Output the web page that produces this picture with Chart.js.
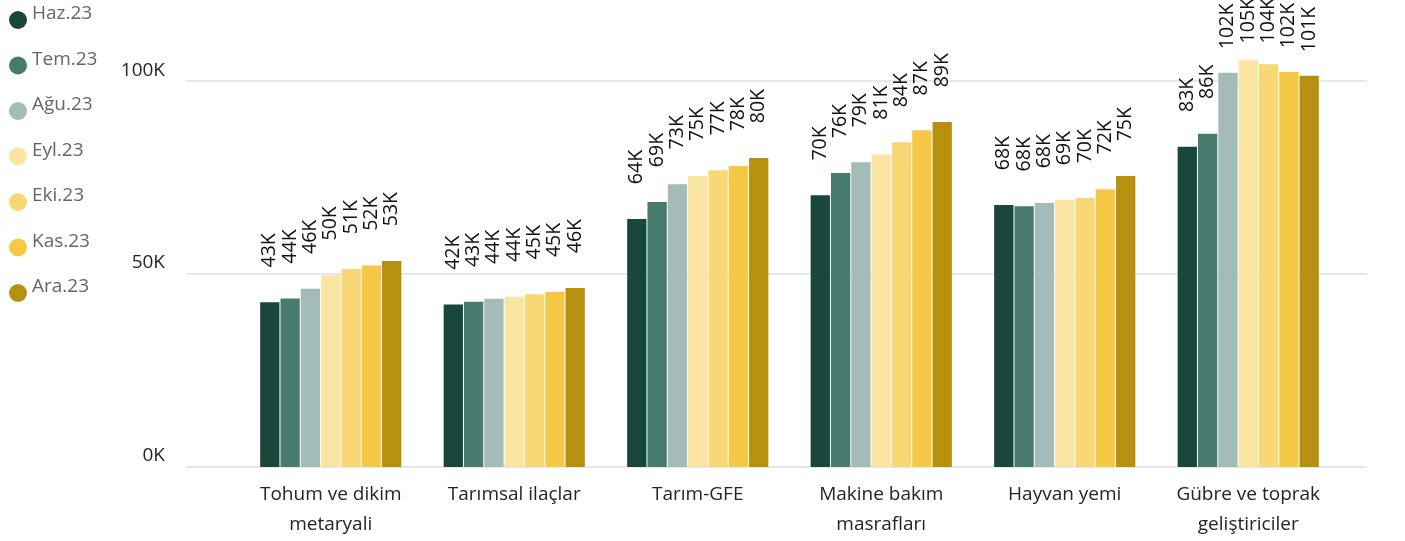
<!DOCTYPE html>
<html>
<head>
<meta charset="utf-8">
<script src="https://cdn.jsdelivr.net/npm/chart.js@4.4.1/dist/chart.umd.min.js"></script>
<style>
html,body{margin:0;padding:0;background:#fff;}
canvas{display:block;}
</style>
</head>
<body>
<canvas id="c" width="1405" height="541"></canvas>
<script>
// Categories (multi-line labels)
const categories = [
  ['Tohum ve dikim', 'metaryali'],
  ['Tarımsal ilaçlar'],
  ['Tarım-GFE'],
  ['Makine bakım', 'masrafları'],
  ['Hayvan yemi'],
  ['Gübre ve toprak', 'geliştiriciler']
];
// Series names
const seriesNames = ['Haz.23', 'Tem.23', 'Ağu.23', 'Eyl.23', 'Eki.23', 'Kas.23', 'Ara.23'];
// Values in thousands
const haz = [42.7, 42.1, 64.3, 70.4, 67.9, 83.0];
const tem = [43.7, 42.8, 68.7, 76.2, 67.6, 86.4];
const agu = [46.2, 43.6, 73.3, 79.0, 68.4, 102.2];
const eyl = [49.7, 44.1, 75.4, 81.0, 69.2, 105.4];
const eki = [51.3, 44.8, 76.9, 84.2, 69.7, 104.4];
const kas = [52.2, 45.4, 78.0, 87.3, 72.0, 102.4];
const ara = [53.4, 46.4, 80.1, 89.4, 75.4, 101.4];
// Y tick values (thousands)
const yTicks = [0, 50, 100];

const seriesValues = [haz, tem, agu, eyl, eki, kas, ara];
const colors = ['#1A473C', '#487B6E', '#A3BCB7', '#F9E4A2', '#F8D774', '#F5C945', '#B8900F'];
const FONT = "'Open Sans', 'Noto Sans', sans-serif";

const gridPlugin = {
  id: 'extGrid',
  beforeDatasetsDraw(chart) {
    const ctx = chart.ctx, y = chart.scales.y, a = chart.chartArea;
    ctx.save();
    ctx.strokeStyle = '#E8E8E8';
    ctx.lineWidth = 2;
    yTicks.forEach(v => {
      const py = Math.round(y.getPixelForValue(v));
      ctx.beginPath();
      ctx.moveTo(a.left - 53, py);
      ctx.lineTo(a.right + 27, py);
      ctx.stroke();
    });
    ctx.restore();
  }
};

const labelPlugin = {
  id: 'barLabels',
  afterDatasetsDraw(chart) {
    const ctx = chart.ctx;
    ctx.save();
    ctx.font = '19.5px ' + FONT;
    ctx.fillStyle = '#111111';
    ctx.textAlign = 'right';
    ctx.textBaseline = 'middle';
    chart.data.datasets.forEach((ds, i) => {
      const meta = chart.getDatasetMeta(i);
      meta.data.forEach((bar, j) => {
        const v = ds.data[j];
        const anchor = Math.max(bar.y - 69, -2);
        ctx.save();
        ctx.translate(bar.x, anchor);
        ctx.rotate(-Math.PI / 2);
        ctx.fillText(Math.round(v) + 'K', 0, 0);
        ctx.restore();
      });
    });
    ctx.restore();
  }
};

const legendPlugin = {
  id: 'sideLegend',
  afterDraw(chart) {
    const ctx = chart.ctx;
    ctx.save();
    ctx.font = '19px ' + FONT;
    ctx.textAlign = 'left';
    ctx.textBaseline = 'middle';
    chart.data.datasets.forEach((ds, i) => {
      const step = 45.5;
      ctx.fillStyle = ds.backgroundColor;
      ctx.beginPath();
      ctx.arc(18, 20 + i * step, 9, 0, Math.PI * 2);
      ctx.fill();
      ctx.fillStyle = '#666666';
      ctx.fillText(ds.label, 32, 14 + i * step);
    });
    ctx.restore();
  }
};

new Chart(document.getElementById('c'), {
  type: 'bar',
  data: {
    labels: categories,
    datasets: seriesNames.map((n, i) => ({
      label: n,
      data: seriesValues[i],
      backgroundColor: colors[i],
      borderWidth: 0,
      categoryPercentage: 0.775,
      barPercentage: 0.95
    }))
  },
  options: {
    responsive: false,
    devicePixelRatio: 1,
    animation: false,
    layout: { padding: { left: 0, right: 65, top: 4, bottom: 0 } },
    plugins: { legend: { display: false }, tooltip: { enabled: false } },
    scales: {
      x: {
        grid: { display: false, drawTicks: false },
        border: { display: false },
        ticks: {
          color: '#252423',
          font: { family: FONT, size: 19, lineHeight: 1.58 },
          padding: 13,
          maxRotation: 0,
          autoSkip: false
        },
        afterFit(s) { s.height = 74; }
      },
      y: {
        min: 0,
        max: 120,
        grid: { display: false, drawTicks: true, tickLength: 74 },
        border: { display: false },
        afterBuildTicks(s) { s.ticks = yTicks.map(v => ({ value: v })); },
        ticks: {
          color: '#252423',
          font: { family: FONT, size: 19, lineHeight: 0.4 },
          padding: 0,
          labelOffset: -11,
          callback: v => v + 'K'
        },
        afterFit(s) { s.width = 239; }
      }
    }
  },
  plugins: [gridPlugin, labelPlugin, legendPlugin]
});
</script>
</body>
</html>
